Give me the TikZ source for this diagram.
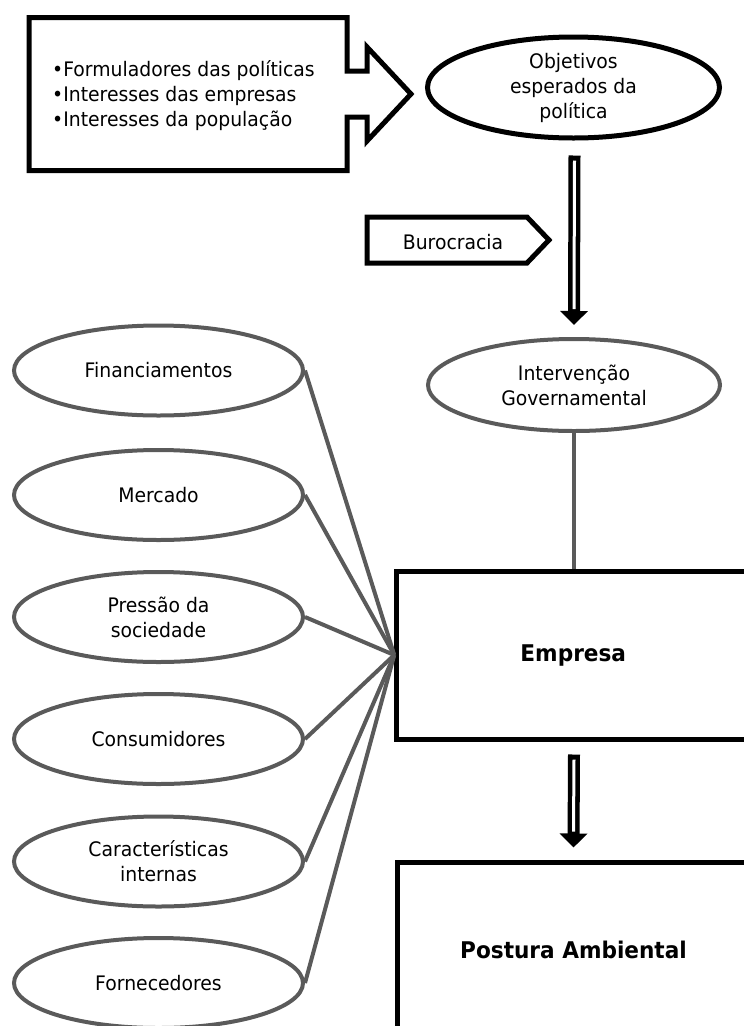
\documentclass[tikz,border=0pt]{standalone}
\usepackage{fontspec}
\setmainfont{DejaVu Sans}[FakeStretch=0.94]
\usetikzlibrary{arrows.meta,calc,shapes.geometric}
\definecolor{linegray}{RGB}{90,90,90}
\begin{document}
\begin{tikzpicture}[x=1pt,y=-1pt,
  every node/.style={font=\fontsize{20}{25}\selectfont, inner sep=0pt},
  blackell/.style={ellipse, draw=black, line width=5pt, align=center, minimum width=292pt, minimum height=101pt},
  grayell/.style={ellipse, draw=linegray, line width=4pt, align=center, minimum width=289pt, minimum height=90pt},
  bigbox/.style={rectangle, draw=black, line width=5pt, minimum width=353pt, font=\fontsize{23}{28}\selectfont\bfseries},
  grayline/.style={draw=linegray, line width=4pt},
  outline/.style={draw=black, line width=5pt, miter limit=10},
  hollowshaft/.style={line width=12pt, -{Triangle[width=27pt,length=14pt]}},
  hollowcore/.style={white, line width=3pt}
]
\useasboundingbox (0,0) rectangle (744,1026);
\clip (0,0) rectangle (744,1026);

% source callout box with arrow
\draw[outline] (29,17.5) -- (347,17.5) -- (347,71) -- (367,71) -- (367,47) -- (411,94)
  -- (367,141) -- (367,117) -- (347,117) -- (347,170.5) -- (29,170.5) -- cycle;
\node[anchor=west, align=left] (src) at (52,96)
  {•Formuladores das políticas\\•Interesses das empresas\\•Interesses da população};

% main column
\node[blackell] (obj) at (573.5,87.5) {Objetivos\\esperados da\\política};
\node[grayell, minimum width=292pt, minimum height=92pt] (interv) at (574,385) {Intervenção\\Governamental};
\node[bigbox, minimum height=168pt] (emp) at (573.25,655) {Empresa};
\node[bigbox, minimum height=176pt] (post) at (573.5,950) {Postura Ambiental};

% burocracia signal
\draw[outline] (367,217) -- (527,217) -- (549,240) -- (527,263) -- (367,263) -- cycle;
\node (buro) at (453,242) {Burocracia};

% hollow arrows
\coordinate (a1) at ($(obj.south)+(1,15)$);
\coordinate (a2) at ($(interv.north)+(0,-12)$);
\draw[hollowshaft] (a1) -- (a2);
\draw[hollowcore] ($(a1)+(0,5)$) -- ($(a2)+(0,-16)$);

\coordinate (b1) at ($(emp.south)+(0.75,13)$);
\coordinate (b2) at ($(post.north)+(0,-12)$);
\draw[hollowshaft] (b1) -- (b2);
\draw[hollowcore] ($(b1)+(0,5)$) -- ($(b2)+(0,-16)$);

% intervention to company
\draw[grayline] (interv.south) -- (interv.south |- emp.north);

% left factors
\node[grayell] (fin) at (158.5,370.5) {Financiamentos};
\node[grayell] (mer) at (158.5,495) {Mercado};
\node[grayell] (pre) at (158.5,617) {Pressão da\\sociedade};
\node[grayell] (con) at (158.5,739) {Consumidores};
\node[grayell] (car) at (158.5,861.5) {Características\\internas};
\node[grayell] (for) at (158.5,983) {Fornecedores};

\foreach \n in {fin,mer,pre,con,car,for}
  \draw[grayline] (\n.east) -- (emp.west);
\end{tikzpicture}
\end{document}
